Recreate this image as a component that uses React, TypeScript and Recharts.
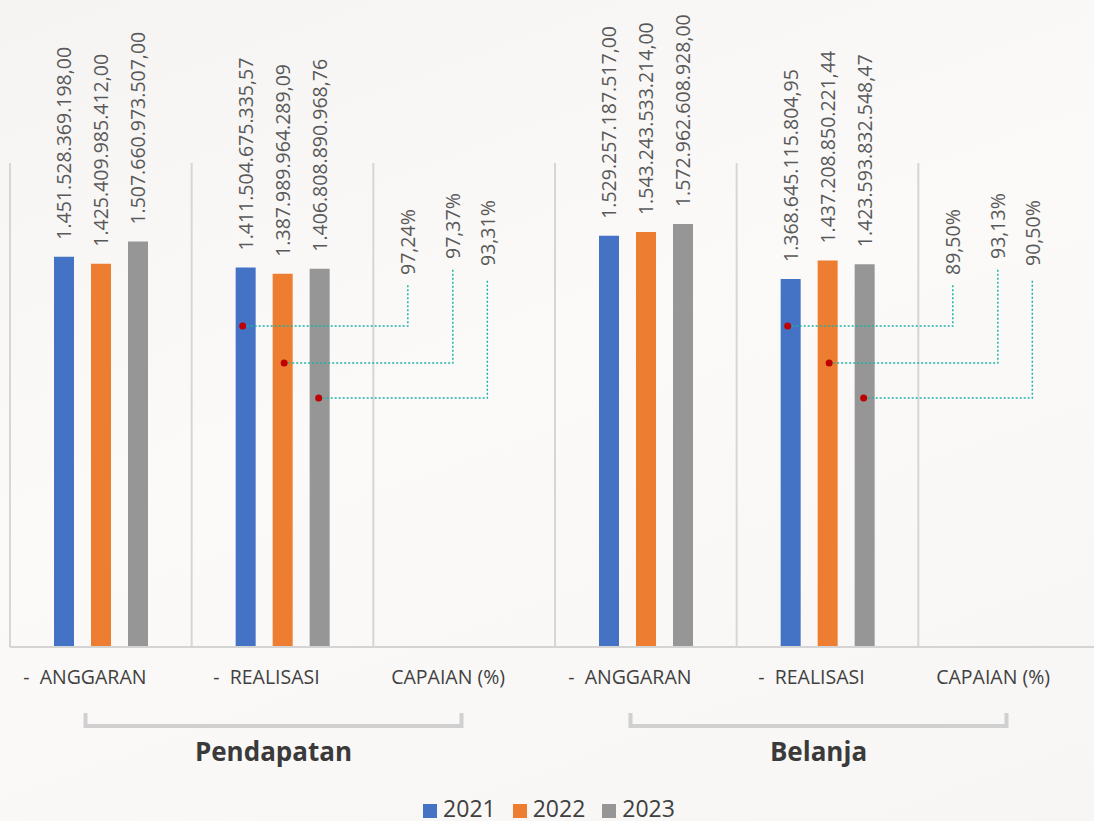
import React from 'react'
import { BarChart, Bar, XAxis, YAxis, CartesianGrid, LabelList, Legend } from 'recharts'

// kategori sumbu X, dua kelompok (Pendapatan / Belanja)
const categories = ['-  ANGGARAN', '-  REALISASI', 'CAPAIAN (%)', '-  ANGGARAN', '-  REALISASI', 'CAPAIAN (%)']
const groups = ['Pendapatan', 'Pendapatan', 'Pendapatan', 'Belanja', 'Belanja', 'Belanja']
const years = ['2021', '2022', '2023']

// nilai per tahun (Rp), capaian dalam persen
const values2021 = [1451528369198.0, 1411504675335.57, 97.24, 1529257187517.0, 1368645115804.95, 89.5]
const values2022 = [1425409985412.0, 1387989964289.09, 97.37, 1543243533214.0, 1437208850221.44, 93.13]
const values2023 = [1507660973507.0, 1406808890968.76, 93.31, 1572962608928.0, 1423593832548.47, 90.5]

const series = [values2021, values2022, values2023]
const COLORS = ['#4472c4', '#ed7d31', '#969696']
const FONT = "'Open Sans', sans-serif"

const CHART_W = 1110
const CHART_H = 821
const MARGIN = { top: 163, right: 10, bottom: 0, left: 10 }
const AXIS_H = 174
const CAT_W = (CHART_W - MARGIN.left - MARGIN.right) / categories.length

// posisi label capaian dan garis penunjuknya, per seri
const LEADER = {
  labelDx: [-19.5, -11.5, -14],
  rise: [372, 388, 381],
  gap: [9, 9, 13],
  dotDx: [-3, 1.5, -1],
  dotRise: [321, 284, 249],
}

const data = categories.map((name, i) => ({
  name,
  group: groups[i],
  y2021: values2021[i],
  y2022: values2022[i],
  y2023: values2023[i],
}))

const isCapaian = (i: number) => categories[i].startsWith('CAPAIAN')

const fmtRp = (v: number) => {
  const [int, dec] = v.toFixed(2).split('.')
  return int.replace(/\B(?=(\d{3})+(?!\d))/g, '.') + ',' + dec
}
const fmtPct = (v: number) => v.toFixed(2).replace('.', ',') + '%'

const makeLabel = (s: number) => (props: any) => {
  const vb = props.viewBox ?? props
  const x = Number(vb.x)
  const y = Number(vb.y)
  const w = Number(vb.width)
  const h = Number(vb.height)
  const idx = props.index
  const cx = x + w / 2
  const textProps = {
    fontFamily: FONT,
    fontSize: 19.5,
    fill: '#595959',
    textAnchor: 'start' as const,
    dominantBaseline: 'central' as const,
  }

  if (isCapaian(idx)) {
    const base = y + h
    const tx = cx + LEADER.labelDx[s]
    const ty = base - LEADER.rise[s]
    const dotX = cx - CAT_W + LEADER.dotDx[s]
    const dotY = base - LEADER.dotRise[s]
    return (
      <g>
        <polyline
          points={`${dotX},${dotY} ${tx},${dotY} ${tx},${ty + LEADER.gap[s]}`}
          fill="none"
          stroke="#1cb3a5"
          strokeWidth={1.5}
          strokeDasharray="2 2"
        />
        <circle cx={dotX} cy={dotY} r={3.5} fill="#c00000" />
        <text x={tx} y={ty} transform={`rotate(-90 ${tx} ${ty})`} {...textProps}>
          {fmtPct(Number(props.value))}
        </text>
      </g>
    )
  }

  const ty = y - 17
  return (
    <text x={cx} y={ty} transform={`rotate(-90 ${cx} ${ty})`} {...textProps}>
      {fmtRp(Number(props.value))}
    </text>
  )
}

const CategoryTick = (props: any) => {
  const { x, y, payload, index } = props
  const members = groups.map((g, j) => (g === groups[index] ? j : -1)).filter((j) => j >= 0)
  const isMid = index === members[Math.floor(members.length / 2)]
  const bx = x - 9
  const half = 188
  return (
    <g>
      <text
        x={x - 16}
        y={y + 37}
        textAnchor="middle"
        fontFamily={FONT}
        fontSize={19.5}
        fill="#404040"
        style={{ whiteSpace: 'pre' }}
      >
        {payload.value}
      </text>
      {isMid && (
        <g>
          <polyline
            points={`${bx - half},${y + 66} ${bx - half},${y + 79} ${bx + half},${y + 79} ${bx + half},${y + 66}`}
            fill="none"
            stroke="#d0d0d0"
            strokeWidth={4}
          />
          <text
            x={bx}
            y={y + 114}
            textAnchor="middle"
            fontFamily={FONT}
            fontSize={26}
            fontWeight={700}
            fill="#3a3a3a"
          >
            {groups[index]}
          </text>
        </g>
      )}
    </g>
  )
}

const LegendContent = () => (
  <div
    style={{
      display: 'flex',
      justifyContent: 'center',
      alignItems: 'flex-end',
      fontFamily: FONT,
      fontSize: 23,
      lineHeight: '23px',
      color: '#404040',
    }}
  >
    {years.map((yr, i) => (
      <div key={yr} style={{ display: 'flex', alignItems: 'flex-end', marginRight: i < years.length - 1 ? 17 : 0 }}>
        <span style={{ display: 'inline-block', width: 14, height: 14, background: COLORS[i], marginRight: 6, marginBottom: 2 }} />
        <span>{yr}</span>
      </div>
    ))}
  </div>
)

export default function App() {
  return (
    <div
      style={{
        position: 'fixed',
        top: 0,
        left: 0,
        width: 1094,
        height: 821,
        overflow: 'hidden',
        background: 'linear-gradient(160deg, #f6f4f3 0%, #fbfaf9 45%, #f8f6f5 100%)',
      }}
    >
      <BarChart width={CHART_W} height={CHART_H} data={data} margin={MARGIN} barSize={20} barGap={17}>
        <CartesianGrid
          horizontal={false}
          stroke="#d6d6d6"
          strokeWidth={2}
          verticalCoordinatesGenerator={({ offset }: any) =>
            categories.map((_, i) => offset.left + i * (offset.width / categories.length)).concat(offset.left + offset.width)
          }
        />
        <XAxis
          dataKey="name"
          height={AXIS_H}
          interval={0}
          tickLine={false}
          tickSize={0}
          tickMargin={0}
          axisLine={{ stroke: '#d4d4d4', strokeWidth: 2 }}
          tick={<CategoryTick />}
        />
        <YAxis hide type="number" domain={[0, 1.8e12]} />
        <Legend
          verticalAlign="middle"
          align="center"
          layout="horizontal"
          content={<LegendContent />}
          wrapperStyle={{ top: 797, left: 0, width: 1098 }}
        />
        {series.map((_, s) => (
          <Bar key={years[s]} dataKey={`y${years[s]}`} name={years[s]} fill={COLORS[s]} isAnimationActive={false}>
            <LabelList dataKey={`y${years[s]}`} content={makeLabel(s)} />
          </Bar>
        ))}
      </BarChart>
    </div>
  )
}
